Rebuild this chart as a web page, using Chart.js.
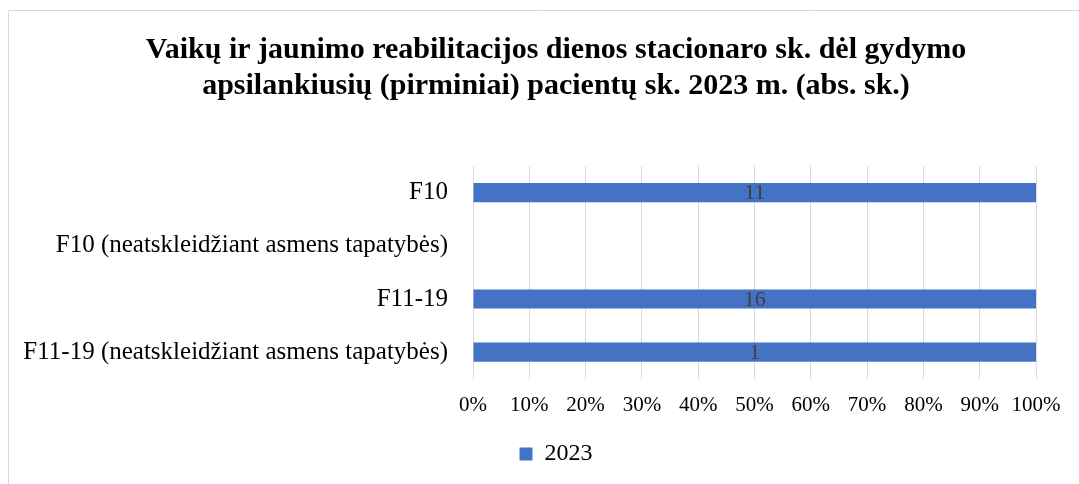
<!DOCTYPE html>
<html>
<head>
<meta charset="utf-8">
<script src="https://cdn.jsdelivr.net/npm/chart.js@4"></script>
<style>
html, body { margin: 0; padding: 0; background: #fff; }
#wrap { width: 1079px; height: 484px; position: relative; }
</style>
</head>
<body>
<div id="wrap"><canvas id="chart"></canvas></div>
<script>
/* ==========================================
DATA
========================================== */

const titleLines = [
"Vaikų ir jaunimo reabilitacijos dienos stacionaro sk. dėl gydymo",
"apsilankiusių (pirminiai) pacientų sk. 2023 m. (abs. sk.)"
];

const categories = [
"F10",
"F10 (neatskleidžiant asmens tapatybės)",
"F11-19",
"F11-19 (neatskleidžiant asmens tapatybės)"
];

const seriesName = "2023";

const values2023 = [11, null, 16, 1];

const xTickValues = [0, 10, 20, 30, 40, 50, 60, 70, 80, 90, 100];


/* ==========================================
100% STACKED SHARES
========================================== */

// only one series, so every filled category is its whole total
const allSeries = [values2023];

function shareOf(series){
return series.map((v, i) => {
if(v === null || v === undefined) return null;
const total = allSeries.reduce((s, ser) => s + (ser[i] || 0), 0);
return total ? (v / total) * 100 : 0;
});
}


/* ==========================================
PLUGINS
========================================== */

const FONT = '"Liberation Serif", "Times New Roman", serif';

const frame = {
id: "frame",
beforeDraw(chart){
const ctx = chart.ctx;
ctx.save();
ctx.fillStyle = "#fff";
ctx.fillRect(0, 0, chart.width, chart.height);
ctx.strokeStyle = "#d9d9d9";
ctx.lineWidth = 1;
ctx.beginPath();
ctx.moveTo(8.5, chart.height);
ctx.lineTo(8.5, 10.5);
ctx.lineTo(chart.width, 10.5);
ctx.stroke();
ctx.restore();
}
};

// long category names reach left of the axis box, so skip the label clip
const noLabelClip = {
id: "noLabelClip",
afterLayout(chart){
chart.scales.y._computeLabelArea = () => null;
}
};

const valueLabels = {
id: "valueLabels",
afterDatasetsDraw(chart){
const ctx = chart.ctx;
ctx.save();
ctx.font = "22px " + FONT;
ctx.fillStyle = "#404040";
ctx.textAlign = "center";
ctx.textBaseline = "middle";
chart.data.datasets.forEach((ds, di) => {
chart.getDatasetMeta(di).data.forEach((bar, i) => {
const raw = ds.rawValues[i];
if(raw === null || raw === undefined) return;
ctx.fillText(String(raw), (bar.x + bar.base) / 2, bar.y + 1);
});
});
ctx.restore();
}
};


/* ==========================================
CHART
========================================== */

new Chart(
document.getElementById("chart"),
{

type: "bar",

data: {
labels: categories,
datasets: [{
label: seriesName,
data: shareOf(values2023),
rawValues: values2023,
backgroundColor: "#4472c4",
borderWidth: 0,
barPercentage: 0.36,
categoryPercentage: 1
}]
},

options: {

indexAxis: "y",
responsive: true,
maintainAspectRatio: false,
animation: false,

layout: {
padding: { left: 76, right: 43, top: 0, bottom: 8 }
},

plugins: {

title: {
display: true,
text: titleLines,
color: "#000",
font: { family: FONT, size: 30, weight: "bold", lineHeight: 1.2 },
padding: { top: 32, bottom: 62 }
},

legend: {
position: "bottom",
labels: {
color: "#000",
boxWidth: 13,
boxHeight: 13,
font: { family: FONT, size: 24 },
padding: 10
}
},

tooltip: { enabled: false }

},

scales: {

x: {
min: 0,
max: 100,
afterBuildTicks: axis => {
axis.ticks = xTickValues.map(v => ({ value: v }));
},
ticks: {
callback: v => v + "%",
color: "#000",
font: { family: FONT, size: 21 },
padding: 14,
maxRotation: 0,
autoSkip: false
},
grid: { color: "#d9d9d9", lineWidth: 1, drawTicks: false },
border: { display: false }
},

y: {
ticks: {
color: "#000",
font: { family: FONT, size: 25 },
padding: 17
},
grid: { display: false },
border: { display: false },
afterFit: axis => { axis.width = 397; }
}

}

},

plugins: [frame, noLabelClip, valueLabels]

}
);
</script>
</body>
</html>
